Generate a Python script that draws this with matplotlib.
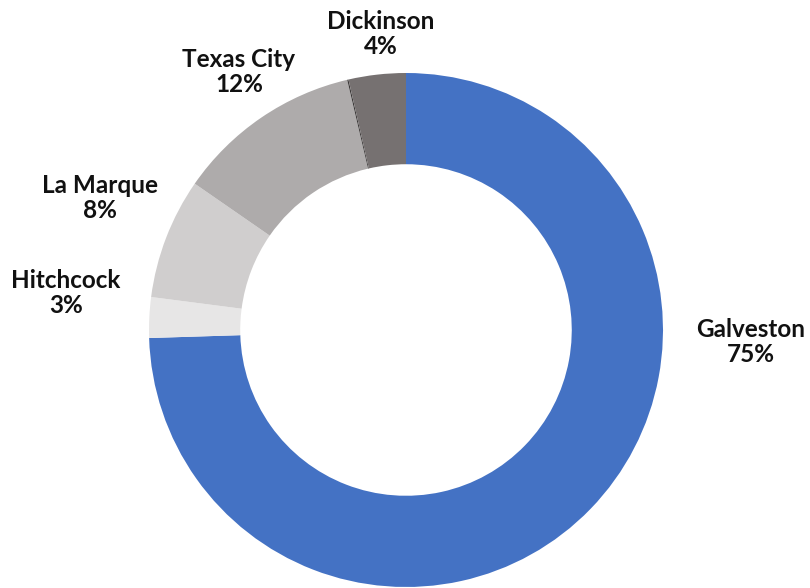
import matplotlib
matplotlib.use("Agg")
import matplotlib.pyplot as plt

categories = ["Galveston", "Hitchcock", "La Marque", "Texas City", "", "Dickinson"]
values = [74.6, 2.55, 7.6, 11.7, 0.08, 3.6]
colors = ["#4472C4", "#E7E6E6", "#D0CECE", "#AEABAB", "#3B3838", "#767171"]

# label anchor positions (pixels from top-left)
label_pos = {
    "Galveston": (751, 342),
    "Hitchcock": (66, 293),
    "La Marque": (100, 198),
    "Texas City": (239, 72),
    "Dickinson": (381, 34),
}

W, H = 810, 588
fig = plt.figure(figsize=(W / 100, H / 100), dpi=100)
ax = fig.add_axes([0, 0, 1, 1])

cx, cy, R = 406, H - 330, 257
ax.pie(values, colors=colors, startangle=90, counterclock=False,
       center=(cx, cy), radius=R, frame=True,
       wedgeprops=dict(width=R * 0.355, linewidth=0))
ax.set_xlim(0, W)
ax.set_ylim(0, H)
ax.set_aspect("equal")
ax.axis("off")

for name, v in zip(categories, values):
    if not name:
        continue
    x, y = label_pos[name]
    ax.text(x, H - y, f"{name}\n{v:.0f}%", ha="center", va="center",
            fontsize=17.5, fontweight="bold", family=["Lato", "DejaVu Sans"],
            color="#111111", linespacing=1.12)

fig.savefig("out.png", dpi=100)
